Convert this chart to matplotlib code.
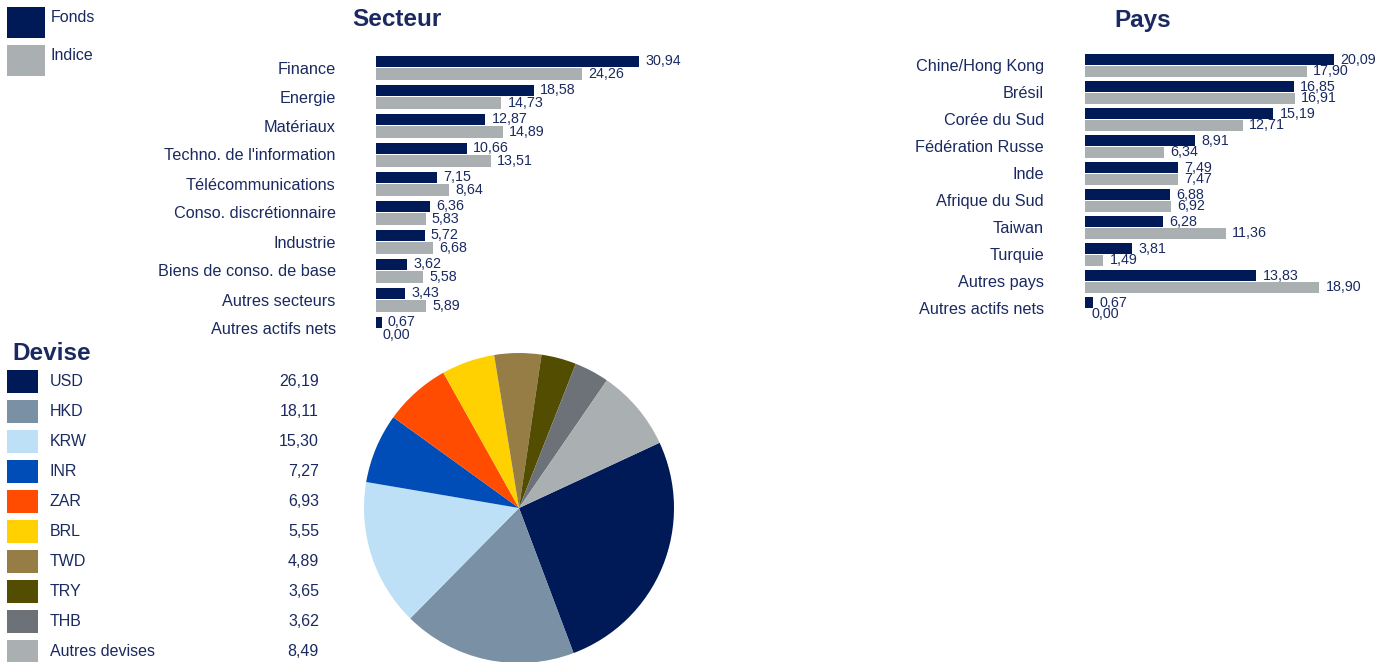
import matplotlib
matplotlib.use("Agg")
import matplotlib.pyplot as plt
from matplotlib.patches import Rectangle

plt.rcParams['font.family'] = ['Liberation Sans', 'DejaVu Sans']

# data
secteurs = ["Finance", "Energie", "Matériaux", "Techno. de l'information",
            "Télécommunications", "Conso. discrétionnaire", "Industrie",
            "Biens de conso. de base", "Autres secteurs", "Autres actifs nets"]
secteur_fonds = [30.94, 18.58, 12.87, 10.66, 7.15, 6.36, 5.72, 3.62, 3.43, 0.67]
secteur_indice = [24.26, 14.73, 14.89, 13.51, 8.64, 5.83, 6.68, 5.58, 5.89, 0.00]

pays = ["Chine/Hong Kong", "Brésil", "Corée du Sud", "Fédération Russe", "Inde",
        "Afrique du Sud", "Taiwan", "Turquie", "Autres pays", "Autres actifs nets"]
pays_fonds = [20.09, 16.85, 15.19, 8.91, 7.49, 6.88, 6.28, 3.81, 13.83, 0.67]
pays_indice = [17.90, 16.91, 12.71, 6.34, 7.47, 6.92, 11.36, 1.49, 18.90, 0.00]

devises = ["USD", "HKD", "KRW", "INR", "ZAR", "BRL", "TWD", "TRY", "THB", "Autres devises"]
devise_vals = [26.19, 18.11, 15.30, 7.27, 6.93, 5.55, 4.89, 3.65, 3.62, 8.49]
devise_colors = ["#001A57", "#7A90A4", "#BDE0F7", "#004DB8", "#FF4C00",
                 "#FFD100", "#967D45", "#524D00", "#6C7277", "#AAAFB2"]

NAVY = "#001A57"
GREY = "#AAAFB2"
TXT = "#1A2A60"

W, H = 1381, 662
fig = plt.figure(figsize=(W / 100, H / 100), dpi=100)


def px_axes(x, y, w, h):
    # pixel box (top-left origin) -> figure axes
    return fig.add_axes([x / W, 1 - (y + h) / H, w / W, h / H])


def fr(v):
    return f"{v:.2f}".replace(".", ",")


def bar_panel(x0, y0, step, ppu, labels, fonds, indice, pad, off1, off2, bh):
    n = len(labels)
    width = 330
    ax = px_axes(x0, y0, width, step * n)
    ax.set_xlim(0, width / ppu)
    ax.set_ylim(n - 0.5, -0.5)
    pos = list(range(n))
    ax.barh([p + off1 for p in pos], fonds, height=bh, color=NAVY)
    ax.barh([p + off2 for p in pos], indice, height=bh, color=GREY)
    for p, a, b in zip(pos, fonds, indice):
        ax.annotate(fr(a), (a, p + off1), xytext=(4.5, 0), textcoords="offset points",
                    va="center", ha="left", fontsize=10.3, color=TXT)
        ax.annotate(fr(b), (b, p + off2), xytext=(4.5, 0), textcoords="offset points",
                    va="center", ha="left", fontsize=10.3, color=TXT)
    ax.set_yticks(pos)
    ax.set_yticklabels(labels, fontsize=11.7, color=TXT)
    ax.tick_params(axis="y", length=0, pad=pad)
    ax.set_xticks([])
    for s in ax.spines.values():
        s.set_visible(False)
    ax.patch.set_alpha(0)
    return ax


bar_panel(376, 53, 29, 8.5, secteurs, secteur_fonds, secteur_indice, 29, -0.21, 0.22, 0.39)
bar_panel(1085, 51.5, 27, 12.4, pays, pays_fonds, pays_indice, 29.5, -0.2, 0.24, 0.41)

# pie
pax = px_axes(364, 353, 310, 310)
pax.pie(devise_vals, colors=devise_colors, startangle=24.9, counterclock=False,
        wedgeprops=dict(linewidth=0))
pax.set_xlim(-1, 1)
pax.set_ylim(-1, 1)

# overlay for titles / legends
ov = fig.add_axes([0, 0, 1, 1])
ov.set_xlim(0, W)
ov.set_ylim(H, 0)
ov.axis("off")
ov.patch.set_alpha(0)

ov.text(397, 20, "Secteur", fontsize=17.5, fontweight="bold", color=TXT, ha="center", va="center")
ov.text(1143, 20, "Pays", fontsize=17.5, fontweight="bold", color=TXT, ha="center", va="center")
ov.text(12, 353, "Devise", fontsize=17.5, fontweight="bold", color=TXT, ha="left", va="center")

ov.add_patch(Rectangle((7, 7), 38, 31, color=NAVY, lw=0))
ov.text(51, 17, "Fonds", fontsize=11.5, color=TXT, va="center")
ov.add_patch(Rectangle((7, 45), 38, 31, color=GREY, lw=0))
ov.text(51, 55, "Indice", fontsize=11.5, color=TXT, va="center")

for i, (name, val, c) in enumerate(zip(devises, devise_vals, devise_colors)):
    yc = 381 + 30 * i
    ov.add_patch(Rectangle((7, yc - 11.5), 31, 23, color=c, lw=0))
    ov.text(50, yc, name, fontsize=11.5, color=TXT, va="center")
    ov.text(319, yc, fr(val), fontsize=11.5, color=TXT, va="center", ha="right")

fig.savefig("out.png", dpi=100)
